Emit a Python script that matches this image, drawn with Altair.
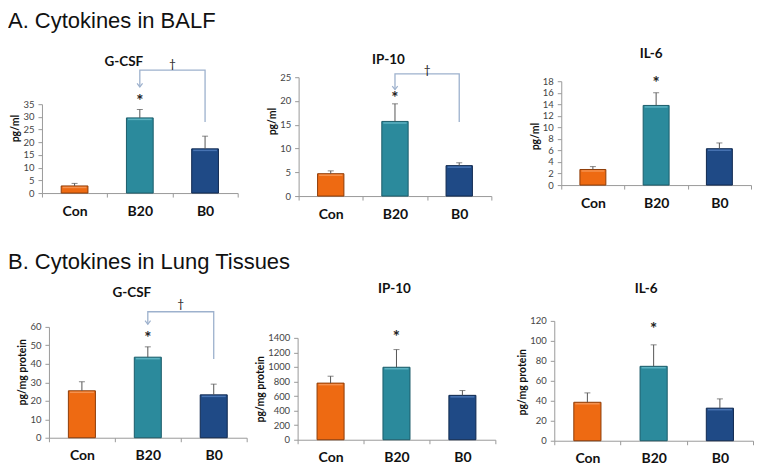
import altair as alt
import pandas as pd

# ---------------- data ----------------
cats = ["Con", "B20", "B0"]
fills = ["#EE6A12", "#2B8A9C", "#1F4A86"]
edges = ["#8E3C08", "#1B5C6A", "#0F284F"]
highlights = ["#F6A36A", "#72C3D2", "#5A86C6"]

section_titles = ["A. Cytokines in BALF", "B. Cytokines in Lung Tissues"]
panel_titles = ["G-CSF", "IP-10", "IL-6", "G-CSF", "IP-10", "IL-6"]
y_titles = ["pg/ml", "pg/ml", "pg/ml", "pg/mg protein", "pg/mg protein", "pg/mg protein"]

means = [
    [2.8, 29.6, 17.4],
    [4.7, 15.7, 6.4],
    [2.7, 13.8, 6.3],
    [25.4, 43.6, 23.2],
    [778, 996, 610],
    [38.5, 74.5, 32.6],
]
err_tops = [
    [3.8, 32.9, 22.4],
    [5.3, 19.4, 7.0],
    [3.2, 16.0, 7.3],
    [30.3, 49.2, 29.0],
    [873, 1239, 676],
    [47.9, 96.0, 41.9],
]
stars = [[0, 1, 0]] * 6
y_max = [35, 25, 18, 60, 1400, 120]
y_ticks = [
    [0, 5, 10, 15, 20, 25, 30, 35],
    [0, 5, 10, 15, 20, 25],
    [0, 2, 4, 6, 8, 10, 12, 14, 16, 18],
    [0, 10, 20, 30, 40, 50, 60],
    [0, 200, 400, 600, 800, 1000, 1200, 1400],
    [0, 20, 40, 60, 80, 100, 120],
]
# significance brackets (B20 vs B0), data units: bracket level, arrow tip, B0 end, dagger
brackets = {0: [48.4, 41.8, 28.0, 50.7], 1: [25.7, 22.4, 15.6, 26.6], 3: [68.2, 61.4, 42.6, 72.5]}

# ---------------- layout (page pixels) ----------------
# plot left, plot top, width, plot bottom, title centre x, title centre y, y-title centre y, star dy
boxes = [
    (42, 104, 196, 193, 124, 62, 128, -3),
    (299, 77, 193, 196, 389, 60, 121, 0),
    (562, 81, 190, 185, 652, 54, 136, -4),
    (49, 327, 198, 438, 132, 293, 372, -3),
    (298, 338, 198, 440, 395, 289, 389, -7),
    (555, 321, 199, 441, 647, 289, 382, -10),
]
# section title bands (top, bottom, baseline) and panel rows (top, bottom)
sec_bands = [(8, 32, 28), (251, 273, 269)]
row_bands = [(32, 251), (273, 463)]
col_edges = [[8, 266, 515, 754], [8, 253, 515, 754]]
ORIGIN_X = min(boxes[0][0], boxes[3][0])  # shared left origin of the first column

AX = "#9a9a9a"
FONT = "Lato"
one = pd.DataFrame({"k": [0]})


def section(r):
    top, bot, base = sec_bands[r]
    le = ORIGIN_X - 8
    anchor = alt.Chart(one).mark_rect(color="white", opacity=0).encode(
        x=alt.value(-le), x2=alt.value(300), y=alt.value(0), y2=alt.value(bot - top))
    txt = alt.Chart(one).mark_text(font="Liberation Sans", fontSize=22, fill="#111",
                                   align="left", baseline="alphabetic").encode(
        x=alt.value(-le), y=alt.value(base - top), text=alt.value(section_titles[r]))
    return alt.layer(anchor, txt).properties(width=300, height=bot - top)


def panel(i):
    px, py, w, pb, tcx, tcy, ytc, sdy = boxes[i]
    r, c = divmod(i, 3)
    ox = ORIGIN_X if c == 0 else px          # view origin
    sx = px - ox                              # plot start inside the view
    W = sx + w
    R = min(b[1] for b in boxes[3 * r:3 * r + 3])  # common top origin of the row
    H = pb - R
    le = ox - col_edges[r][c]
    re = col_edges[r][c + 1] - (ox + W)
    te = R - row_bands[r][0]
    be = row_bands[r][1] - pb

    df = pd.DataFrame({"cat": cats, "val": means[i], "err": err_tops[i], "star": stars[i]})
    xs = alt.Scale(domain=cats, paddingInner=0, paddingOuter=0, range=[sx, W])
    ys = alt.Scale(domain=[0, y_max[i]], range=[H, py - R], nice=False, zero=True)
    xa = alt.Axis(title=None, labelAngle=0, labelFont=FONT, labelFontSize=14,
                  labelFontWeight="bold", labelColor="#111", tickBand="extent",
                  tickSize=4, tickColor=AX, domainColor=AX, labelPadding=7)
    yargs = dict(values=y_ticks[i], format="d", title=y_titles[i], titleFont=FONT,
                 titleFontSize=10.5, titleFontWeight="bold", titleColor="#111",
                 titlePadding=2, titleY=ytc - R, labelFont=FONT, labelFontSize=9.5,
                 labelColor="#444", labelPadding=4, tickSize=4, tickColor=AX,
                 domainColor=AX, grid=False)
    if sx:
        yargs["offset"] = -sx
    ya = alt.Axis(**yargs)
    xe = alt.X("cat:N", sort=cats, scale=xs, axis=xa)

    def Y(f):
        return alt.Y(f, scale=ys, axis=ya)

    anchor = alt.Chart(one).mark_rect(color="white", opacity=0).encode(
        x=alt.value(-le), x2=alt.value(W + re), y=alt.value(-te), y2=alt.value(H + be)
    )
    bars = alt.Chart(df).mark_bar(width=alt.RelativeBandSize(0.41), strokeWidth=1).encode(
        x=xe, y=Y("val:Q"),
        color=alt.Color("cat:N", scale=alt.Scale(domain=cats, range=fills), legend=None),
        stroke=alt.Stroke("cat:N", scale=alt.Scale(domain=cats, range=edges), legend=None),
    )
    bar_w = 0.41 * w / 3
    shines = [
        alt.Chart(df).transform_filter(alt.datum.cat == cat).mark_tick(
            color=hl, size=bar_w - 3, thickness=1.5, yOffset=1.5).encode(x=xe, y=Y("val:Q"))
        for cat, hl in zip(cats, highlights)
    ]
    rule = alt.Chart(df).mark_rule(color="#555", strokeWidth=1).encode(
        x=xe, y=Y("val:Q"), y2="err:Q")
    cap = alt.Chart(df).mark_tick(color="#555", size=6, thickness=1).encode(
        x=xe, y=Y("err:Q"))
    star = alt.Chart(df).mark_text(text="*", font=FONT, fontSize=17, fontWeight="bold",
                                   fill="#222", baseline="alphabetic", dy=sdy).transform_filter(
        alt.datum.star == 1).encode(x=xe, y=Y("err:Q"))
    title = alt.Chart(one).mark_text(font=FONT, fontSize=13.5, fontWeight="bold", fill="#111",
                                     baseline="middle").encode(
        x=alt.value(tcx - ox), y=alt.value(tcy - R), text=alt.value(panel_titles[i]))
    layers = [anchor, bars] + shines + [rule, cap, star, title]

    if i in brackets:
        by, tip, b0e, dg = brackets[i]
        bdf = pd.DataFrame({"cat": ["B20", "B20", "B0", "B0"], "y": [tip, by, by, b0e], "o": [0, 1, 2, 3]})
        line = alt.Chart(bdf).mark_line(color="#9DB1CD", strokeWidth=1.3).encode(
            x=xe, y=Y("y:Q"), order="o:Q")
        head = alt.Chart(bdf[bdf.o == 0]).mark_point(
            shape="M-1,-1.3L0,0L1,-1.3", filled=False, size=30, color="#9DB1CD", strokeWidth=1.2,
            opacity=1).encode(x=xe, y=Y("y:Q"))
        ddf = pd.DataFrame({"cat": ["B20"], "y": [dg]})
        dag = alt.Chart(ddf).mark_text(text="\u2020", font=FONT, fontSize=12, fill="#222",
                                       baseline="middle").encode(
            x=alt.X("cat:N", sort=cats, scale=xs, axis=xa, bandPosition=1),
            y=Y("y:Q"))
        layers += [line, head, dag]

    return alt.layer(*layers).properties(width=W, height=H)


rowA = alt.hconcat(panel(0), panel(1), panel(2), spacing=0)
rowB = alt.hconcat(panel(3), panel(4), panel(5), spacing=0)
chart = alt.vconcat(section(0), rowA, section(1), rowB, spacing=0).properties(
    padding=0, background="white"
).configure(padding=0).configure_view(stroke=None)

chart.save("out.html", embed_options={"renderer": "svg", "actions": False})
